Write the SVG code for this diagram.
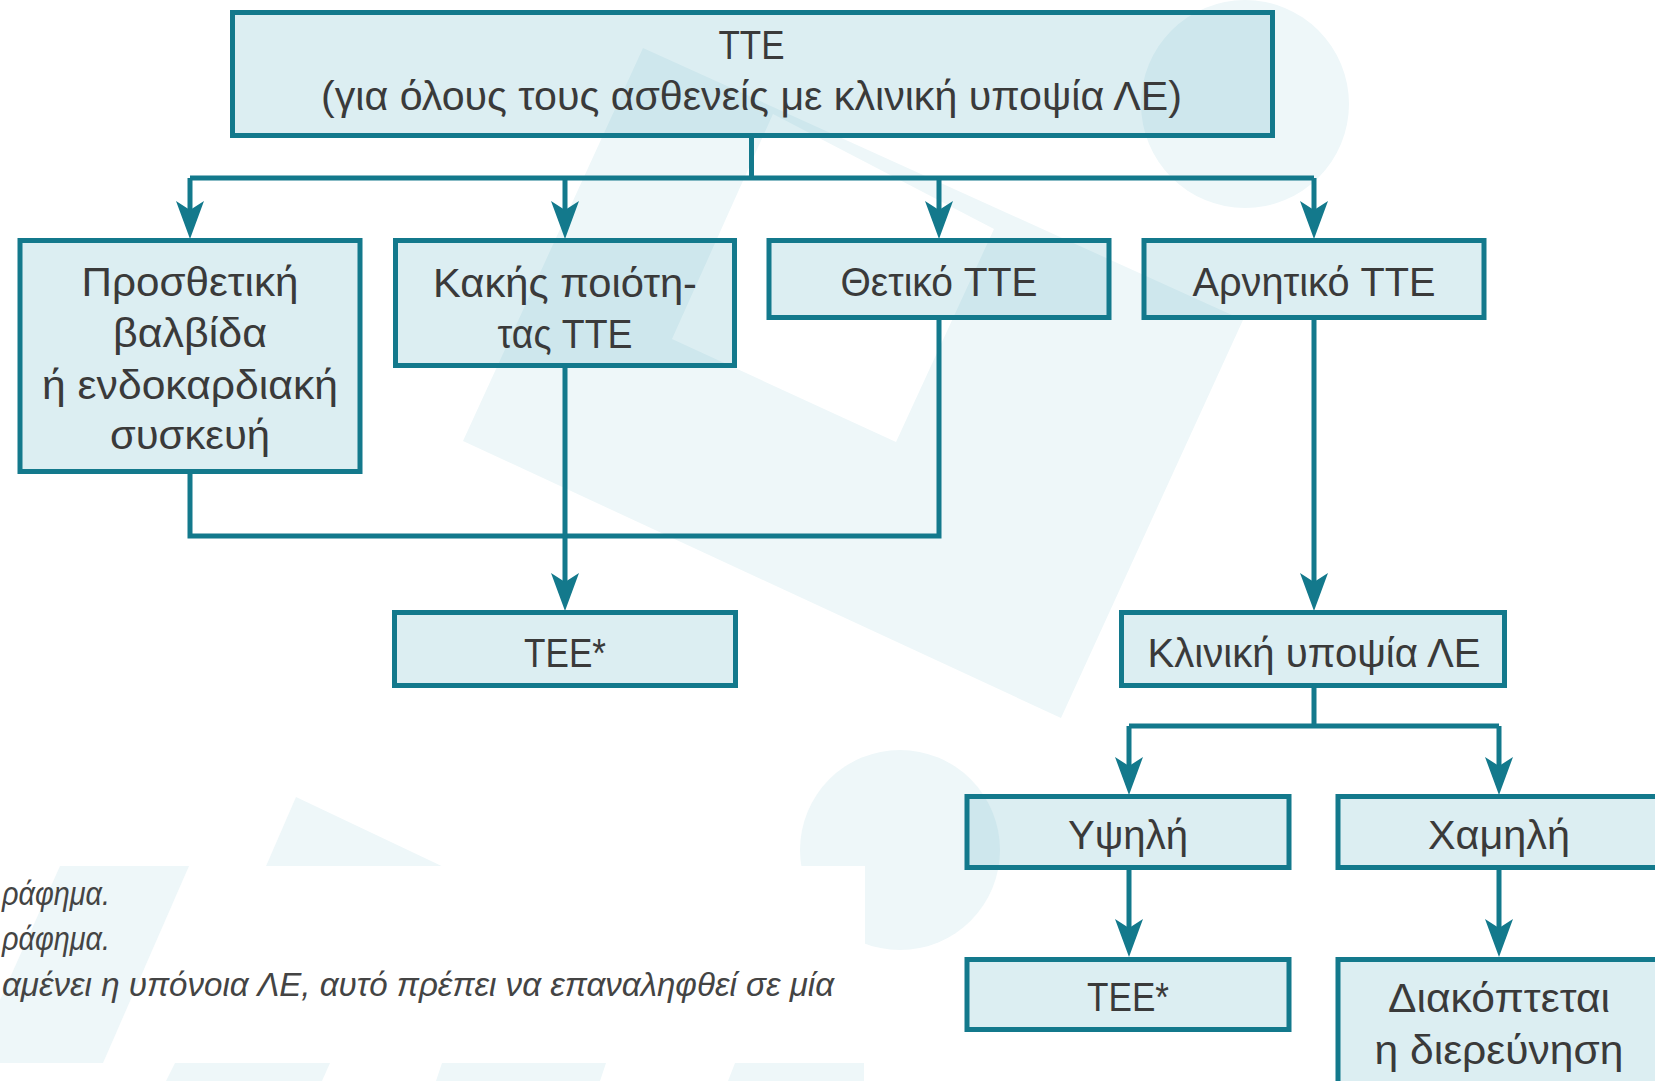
<svg xmlns="http://www.w3.org/2000/svg" width="1655" height="1081" viewBox="0 0 1655 1081">
<style>
.box{fill:#5fb3c6;fill-opacity:0.22;stroke:#13798c;stroke-width:5}
.lbl{font-family:"Liberation Sans",Arial,sans-serif;font-size:41px;fill:#3a3a3a;text-anchor:middle}
.con{fill:none;stroke:#13798c;stroke-width:5}
.arr{fill:none;stroke:#13798c;stroke-width:5;marker-end:url(#ah)}
.wm{fill:#eef7f9}
.note{font-family:"Liberation Sans",Arial,sans-serif;font-size:33px;font-style:italic;fill:#444}
</style>
<defs>
<marker id="ah" viewBox="0 0 38 28" refX="18" refY="14" markerWidth="38" markerHeight="28" markerUnits="userSpaceOnUse" orient="auto">
<path d="M0,0 L38,14 L0,28 L9,14 Z" fill="#13798c"/>
</marker>
</defs>
<rect width="1655" height="1081" fill="#fff"/>
<g id="watermark">
<circle class="wm" cx="1245" cy="104" r="104"/>
<circle class="wm" cx="900" cy="850" r="100"/>
<path class="wm" fill-rule="evenodd" d="M643,48 L1243,320 L1061,718 L463,441 Z M773,114 L994,229 L896,442 L672,339 Z"/>
<polygon class="wm" points="260,880 296,797 450,870"/>
<polygon class="wm" points="166,1081 175,1063 330,1063 322,1081"/>
<polygon class="wm" points="436,1081 442,1063 606,1063 600,1081"/>
<polygon class="wm" points="728,1081 735,1063 864,1063 864,1081"/>
<rect x="0" y="866" width="865" height="197" fill="#fff"/>
<polygon class="wm" points="60,866 189,866 103,1063 0,1063 0,1000"/>
</g>
<g id="connectors">
<path class="con" d="M751.5,137 V178 M190,178 H1314"/>
<path class="arr" d="M190,178 V219"/>
<path class="arr" d="M565,178 V219"/>
<path class="arr" d="M939,178 V219"/>
<path class="arr" d="M1314,178 V219"/>
<path class="con" d="M190,471 V536 H939 V318"/>
<path class="arr" d="M565,366 V591"/>
<path class="arr" d="M1314,318 V591"/>
<path class="con" d="M1314,687 V726 M1129,726 H1499"/>
<path class="arr" d="M1129,726 V775"/>
<path class="arr" d="M1499,726 V775"/>
<path class="arr" d="M1129,869 V937"/>
<path class="arr" d="M1499,869 V937"/>
</g>
<g id="n-tte">
<rect class="box" x="232.5" y="12.5" width="1040" height="123"/>
<text class="lbl" x="751.5" y="59" textLength="66" lengthAdjust="spacingAndGlyphs">TTE</text>
<text class="lbl" x="751.5" y="110" textLength="861" lengthAdjust="spacingAndGlyphs">(για όλους τους ασθενείς με κλινική υποψία ΛΕ)</text>
</g>
<g id="n-prosthetic">
<rect class="box" x="20" y="240.5" width="340" height="231"/>
<text class="lbl" x="190" y="296" textLength="217" lengthAdjust="spacingAndGlyphs">Προσθετική</text>
<text class="lbl" x="190" y="347" textLength="154" lengthAdjust="spacingAndGlyphs">βαλβίδα</text>
<text class="lbl" x="190" y="399" textLength="296" lengthAdjust="spacingAndGlyphs">ή ενδοκαρδιακή</text>
<text class="lbl" x="190" y="449" textLength="160" lengthAdjust="spacingAndGlyphs">συσκευή</text>
</g>
<g id="n-poor">
<rect class="box" x="395.5" y="240.5" width="339" height="125"/>
<text class="lbl" x="565" y="297" textLength="264" lengthAdjust="spacingAndGlyphs">Κακής ποιότη-</text>
<text class="lbl" x="565" y="348" textLength="135" lengthAdjust="spacingAndGlyphs">τας TTE</text>
</g>
<g id="n-positive">
<rect class="box" x="769" y="240.5" width="340" height="77"/>
<text class="lbl" x="939" y="296" textLength="197" lengthAdjust="spacingAndGlyphs">Θετικό TTE</text>
</g>
<g id="n-negative">
<rect class="box" x="1144" y="240.5" width="340" height="77"/>
<text class="lbl" x="1314" y="296" textLength="243" lengthAdjust="spacingAndGlyphs">Αρνητικό TTE</text>
</g>
<g id="n-tee1">
<rect class="box" x="394.5" y="612.5" width="341" height="73"/>
<text class="lbl" x="565" y="667" textLength="82" lengthAdjust="spacingAndGlyphs">TEE*</text>
</g>
<g id="n-clinical">
<rect class="box" x="1121.5" y="612.5" width="383" height="73"/>
<text class="lbl" x="1314" y="667" textLength="333" lengthAdjust="spacingAndGlyphs">Κλινική υποψία ΛΕ</text>
</g>
<g id="n-high">
<rect class="box" x="967" y="796.5" width="322" height="71"/>
<text class="lbl" x="1128" y="849" textLength="120" lengthAdjust="spacingAndGlyphs">Υψηλή</text>
</g>
<g id="n-low">
<rect class="box" x="1338" y="796.5" width="330" height="71"/>
<text class="lbl" x="1499" y="849" textLength="142" lengthAdjust="spacingAndGlyphs">Χαμηλή</text>
</g>
<g id="n-tee2">
<rect class="box" x="967" y="959.5" width="322" height="70"/>
<text class="lbl" x="1128" y="1011" textLength="82" lengthAdjust="spacingAndGlyphs">TEE*</text>
</g>
<g id="n-stop">
<rect class="box" x="1338" y="959.5" width="330" height="140"/>
<text class="lbl" x="1499" y="1012" textLength="222" lengthAdjust="spacingAndGlyphs">Διακόπτεται</text>
<text class="lbl" x="1499" y="1064" textLength="249" lengthAdjust="spacingAndGlyphs">η διερεύνηση</text>
</g>
<g id="notes">
<text class="note" x="2" y="905" textLength="108" lengthAdjust="spacingAndGlyphs">ράφημα.</text>
<text class="note" x="2" y="950" textLength="108" lengthAdjust="spacingAndGlyphs">ράφημα.</text>
<text class="note" x="2" y="996" textLength="832" lengthAdjust="spacingAndGlyphs">αμένει η υπόνοια ΛΕ, αυτό πρέπει να επαναληφθεί σε μία</text>
</g>
</svg>
